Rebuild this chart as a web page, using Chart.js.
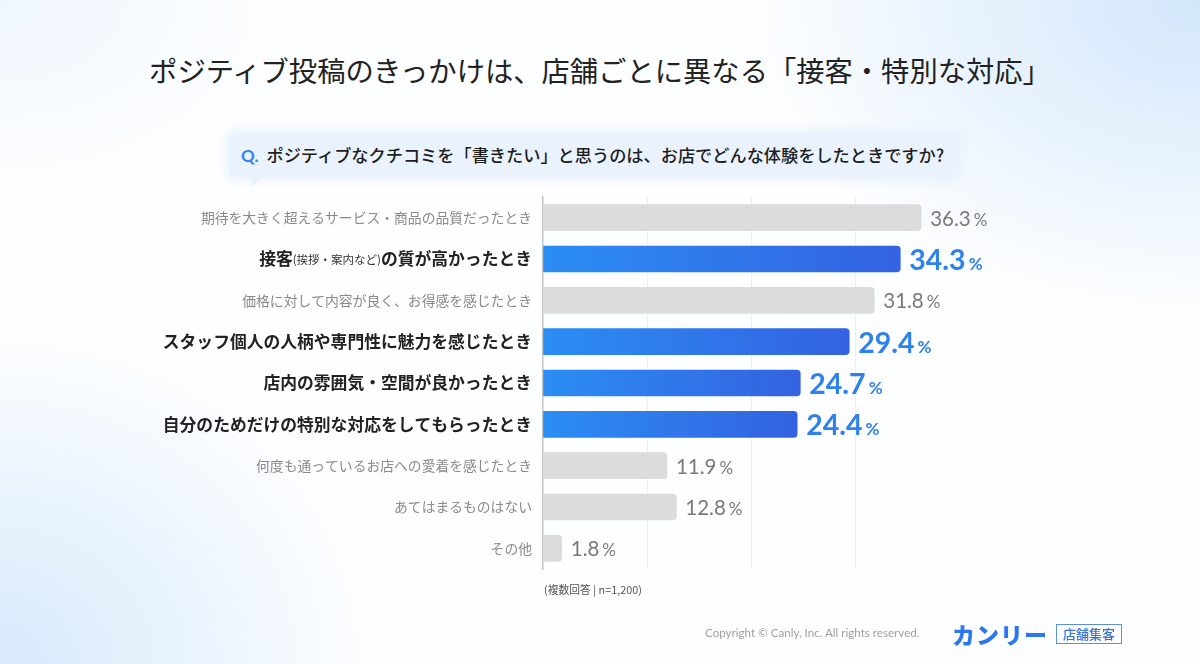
<!DOCTYPE html>
<html lang="ja">
<head>
<meta charset="utf-8">
<script src="https://cdn.jsdelivr.net/npm/chart.js@4"></script>
<style>
  html, body { margin: 0; padding: 0; }
  body {
    width: 1200px; height: 664px; overflow: hidden; position: relative;
    font-family: "Noto Sans CJK JP", "Noto Sans", sans-serif;
    background:
      radial-gradient(ellipse 460px 320px at 100% 0%, rgba(200,225,250,0.8), rgba(255,255,255,0) 100%),
      radial-gradient(ellipse 380px 340px at 0% 100%, rgba(205,228,250,0.8), rgba(255,255,255,0) 100%),
      radial-gradient(ellipse 300px 200px at 0% 0%, rgba(225,238,252,0.5), rgba(255,255,255,0) 100%),
      #fdfeff;
  }
  #title {
    position: absolute; left: 0; top: 49px; width: 1200px; text-align: center;
    font-size: 28.3px; font-weight: 400; color: #222;
  }
  #question {
    position: absolute; left: 230px; top: 133px; width: 728px; height: 44px;
    background: #e9f2fd; border-radius: 4px;
    box-shadow: 0 0 8px 4px rgba(233,242,253,0.9);
    font-size: 17.2px; font-weight: 500; color: #1e1e1e; line-height: 44px;
    box-sizing: border-box; padding-left: 11px;
  }
  #question::after {
    content: ""; position: absolute; left: 22px; top: 44px;
    border-left: 0 solid transparent; border-right: 12px solid transparent;
    border-top: 10px solid #e9f2fd;
  }
  #question .q { color: #2f86ee; font-family: Lato, sans-serif; font-weight: 700; margin-right: 8px; font-size: 17px; }
  #note { position: absolute; left: 544px; top: 581px; font-size: 10.8px; color: #555; }
  #copy { position: absolute; left: 705px; top: 626px; font-size: 11.6px; color: #a0a0a0; font-family: Lato, sans-serif; }
  #logo { position: absolute; left: 952px; top: 617px; font-size: 23px; font-weight: 900; color: #2a78ec; letter-spacing: 1px; }
  #tag {
    position: absolute; left: 1056px; top: 624px; width: 66px; height: 20px; box-sizing: border-box;
    border: 1.5px solid #5b8fe6; color: #3a72dc; font-size: 13px; font-weight: 500;
    text-align: center; line-height: 17px; background: #fff;
  }
  #wrap { position: absolute; left: 0; top: 0; width: 1200px; height: 664px; }
</style>
</head>
<body>
<div id="title">ポジティブ投稿のきっかけは、店舗ごとに異なる「接客・特別な対応」</div>
<div id="question"><span class="q">Q.</span>ポジティブなクチコミを「書きたい」と思うのは、お店でどんな体験をしたときですか?</div>
<div id="wrap"><canvas id="chart" width="1200" height="664"></canvas></div>
<div id="note">(複数回答 | n=1,200)</div>
<div id="copy">Copyright © Canly, Inc. All rights reserved.</div>
<div id="logo">カンリー</div>
<div id="tag">店舗集客</div>
<script>
// data
const categories = [
  '期待を大きく超えるサービス・商品の品質だったとき',
  '接客(挨拶・案内など)の質が高かったとき',
  '価格に対して内容が良く、お得感を感じたとき',
  'スタッフ個人の人柄や専門性に魅力を感じたとき',
  '店内の雰囲気・空間が良かったとき',
  '自分のためだけの特別な対応をしてもらったとき',
  '何度も通っているお店への愛着を感じたとき',
  'あてはまるものはない',
  'その他'
];
const values = [36.3, 34.3, 31.8, 29.4, 24.7, 24.4, 11.9, 12.8, 1.8];
const highlighted = [false, true, false, true, true, true, false, false, false];
const gridTicks = [10, 20, 30];

const jp = '"Noto Sans CJK JP", sans-serif';
const num = 'Lato, "Open Sans", sans-serif';

function barColor(ctx) {
  const i = ctx.dataIndex;
  if (!highlighted[i]) return '#dcdcdf';
  const chart = ctx.chart;
  const area = chart.chartArea;
  if (!area) return '#2f80ed';
  const xEnd = chart.scales.x.getPixelForValue(values[i]);
  const g = chart.ctx.createLinearGradient(area.left, 0, xEnd, 0);
  g.addColorStop(0, '#2b8df4');
  g.addColorStop(1, '#3462e0');
  return g;
}

// category labels drawn left of the axis, with the small parenthetical part
const labelPlugin = {
  id: 'labels',
  afterDatasetsDraw(chart) {
    const c = chart.ctx;
    const y = chart.scales.y;
    const right = chart.chartArea.left - 11;
    c.save();
    c.textBaseline = 'middle';
    categories.forEach((label, i) => {
      const py = y.getPixelForValue(i);
      if (!highlighted[i]) {
        c.font = '400 13.8px ' + jp;
        c.fillStyle = '#8a8a8a';
        c.textAlign = 'right';
        c.fillText(label, right, py);
        return;
      }
      const m = label.match(/^(.*?)(\(.*?\))(.*)$/);
      c.fillStyle = '#222';
      c.textAlign = 'left';
      const big = '700 16.8px ' + jp;
      if (m) {
        const small = '400 11.5px ' + jp;
        c.font = big; const w1 = c.measureText(m[1]).width, w3 = c.measureText(m[3]).width;
        c.font = small; const w2 = c.measureText(m[2]).width;
        let x = right - w1 - w2 - w3;
        c.font = big; c.fillText(m[1], x, py); x += w1;
        c.font = small; c.fillStyle = '#333'; c.fillText(m[2], x, py + 1); x += w2;
        c.font = big; c.fillStyle = '#222'; c.fillText(m[3], x, py);
      } else {
        c.font = big;
        c.textAlign = 'right';
        c.fillText(label, right, py);
      }
    });
    // value labels after the bar ends
    const meta = chart.getDatasetMeta(0);
    c.textAlign = 'left';
    c.textBaseline = 'alphabetic';
    meta.data.forEach((bar, i) => {
      const v = values[i].toFixed(1);
      let x = bar.x + 9;
      if (highlighted[i]) {
        c.fillStyle = '#2f82ec';
        c.font = '700 28.5px ' + num;
        c.fillText(v, x, bar.y + 11);
        x += c.measureText(v).width + 3;
        c.font = '700 17px ' + num;
        c.fillText('%', x, bar.y + 11);
      } else {
        c.fillStyle = '#7a7a7a';
        c.font = '400 20.5px ' + num;
        c.fillText(v, x, bar.y + 8);
        x += c.measureText(v).width + 3;
        c.font = '400 17px ' + num;
        c.fillText('%', x, bar.y + 8);
      }
    });
    c.restore();
  }
};

new Chart(document.getElementById('chart'), {
  type: 'bar',
  data: {
    labels: categories,
    datasets: [{
      data: values,
      backgroundColor: barColor,
      barThickness: 26,
      borderSkipped: false,
      borderRadius: { topLeft: 0, bottomLeft: 0, topRight: 4, bottomRight: 4 }
    }]
  },
  options: {
    indexAxis: 'y',
    responsive: false,
    animation: false,
    events: [],
    layout: { padding: { left: 543, right: 157, top: 197, bottom: 95 } },
    plugins: { legend: { display: false }, tooltip: { enabled: false } },
    scales: {
      x: {
        min: 0, max: 48,
        ticks: { display: false, stepSize: 10 },
        border: { display: false },
        grid: {
          drawTicks: false,
          color: ctx => gridTicks.includes(ctx.tick && ctx.tick.value) ? 'rgba(0,0,0,0.06)' : 'rgba(0,0,0,0)'
        }
      },
      y: {
        ticks: { display: false },
        grid: { display: false, drawTicks: false },
        border: { display: true, color: '#c4c4c4', width: 1.5 }
      }
    }
  },
  plugins: [labelPlugin]
});
</script>
</body>
</html>
